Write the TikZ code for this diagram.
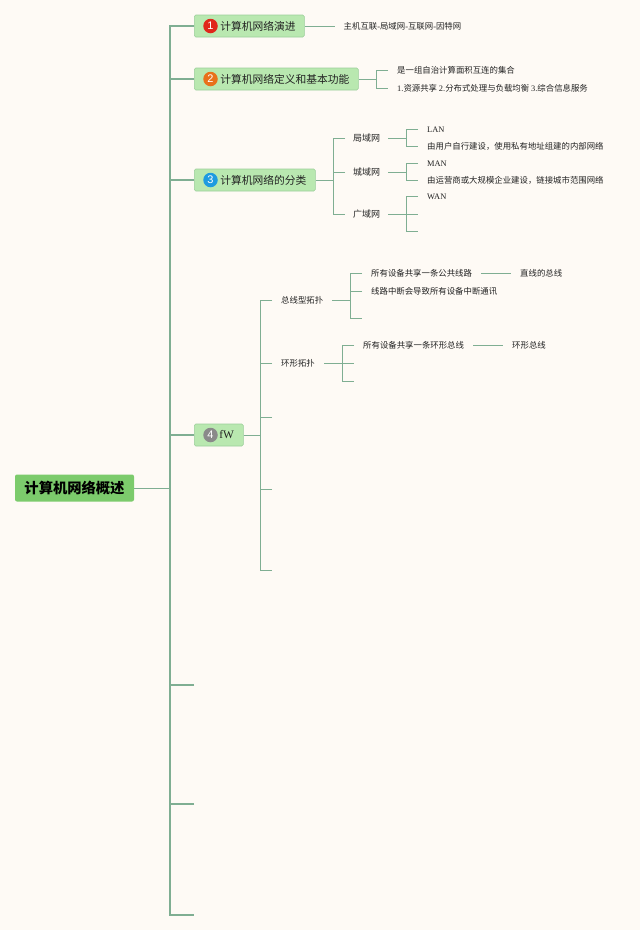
\documentclass[tikz,border=0pt]{standalone}
\usepackage{fontspec}
\setmainfont{Liberation Serif}
\newfontfamily\cjk{Noto Sans CJK SC}
\newfontfamily\badgefont{Liberation Sans}
\definecolor{bgc}{HTML}{FEFAF5}
\definecolor{linec}{HTML}{7FAE92}
\definecolor{topicfill}{HTML}{B9E8B0}
\definecolor{topicdraw}{HTML}{9BCF9A}
\definecolor{rootfill}{HTML}{7CCB6C}
\definecolor{txt}{HTML}{222222}
\definecolor{bred}{HTML}{E0261B}
\definecolor{borange}{HTML}{E8711A}
\definecolor{bblue}{HTML}{1E9BE0}
\definecolor{bgray}{HTML}{8A8A8A}
\tikzset{
  conn/.style={draw=linec,line width=1pt},
  trunk/.style={draw=linec,line width=1.2pt},
  rootbox/.style={rectangle,rounded corners=2pt,fill=rootfill,minimum width=119pt,minimum height=27pt,inner sep=0pt,font=\cjk\fontsize{14.3}{16}\selectfont\bfseries,text=black},
  topicbox/.style={rectangle,rounded corners=1.5pt,fill=topicfill,draw=topicdraw,line width=0.6pt,minimum height=22pt,anchor=west,inner sep=0pt,align=left,text=txt,font=\cjk\fontsize{10.75}{12}\selectfont},
  badge/.style={circle,minimum size=14.5pt,inner sep=0pt,text=white,font=\badgefont\fontsize{11}{12}\selectfont},
  leaf/.style={anchor=west,inner ysep=0pt,inner xsep=9pt,text height=6pt,text depth=0pt,text=txt,font=\cjk\fontsize{8.4}{10}\selectfont},
  midleaf/.style={leaf,font=\cjk\fontsize{9}{10}\selectfont},
  latinleaf/.style={leaf,font=\rmfamily\fontsize{8.4}{10}\selectfont},
}
\begin{document}
\begin{tikzpicture}[x=1pt,y=-1pt]
\useasboundingbox[fill=bgc] (0,0) rectangle (640,930);
% root and topics
\node[rootbox] (root) at (74.5,488) {计算机网络概述};
\node[topicbox] (t1) at (194,26) {\makebox[110pt][l]{\hspace{26pt}计算机网络演进}};
\node[topicbox] (t2) at (194,79) {\makebox[164pt][l]{\hspace{26pt}计算机网络定义和基本功能}};
\node[topicbox] (t3) at (194,180) {\makebox[121pt][l]{\hspace{26pt}计算机网络的分类}};
\node[topicbox,font=\rmfamily\fontsize{11.5}{12}\selectfont] (t4) at (194,435) {\makebox[49pt][l]{\hspace{25pt}fW}};
\node[badge,fill=bred] (b1) at (210.5,26) {1};
\node[badge,fill=borange] (b2) at (210.5,79) {2};
\node[badge,fill=bblue] (b3) at (210.5,180) {3};
\node[badge,fill=bgray] (b4) at (210.5,435) {4};
% trunk
\coordinate (tj) at (170,488);
\coordinate (t5) at (194,685);
\coordinate (t6) at (194,804);
\coordinate (t7) at (194,915);
\draw[conn] (root.east) -- (tj);
\draw[trunk] (t1.west) -- (170,26) -- (170,915) -- (t7);
\draw[trunk] (t2.west) -- (170,79);
\draw[trunk] (t3.west) -- (170,180);
\draw[trunk] (t4.west) -- (170,435);
\draw[trunk] (t5) -- (170,685);
\draw[trunk] (t6) -- (170,804);
% topic 1
\node[leaf] (a1) at (334.5,26) {主机互联{\rmfamily -}局域网{\rmfamily -}互联网{\rmfamily -}因特网};
\draw[conn] (t1.east) -- (a1.west);
% topic 2
\node[leaf] (a2) at (388,70) {是一组自治计算面积互连的集合};
\node[leaf] (a3) at (388,88) {{\rmfamily 1.}资源共享 {\rmfamily 2.}分布式处理与负载均衡 {\rmfamily 3.}综合信息服务};
\draw[conn] (t2.east) -- (376,79);
\draw[conn] (a2.west) -- (376,70) -- (376,88) -- (a3.west);
% topic 3
\node[midleaf,inner xsep=8pt] (c1) at (345,138) {局域网};
\node[midleaf,inner xsep=8pt] (c2) at (345,172) {城域网};
\node[midleaf,inner xsep=8pt] (c3) at (345,214) {广域网};
\draw[conn] (t3.east) -- (333,180);
\draw[conn] (c1.west) -- (333,138) -- (333,214) -- (c3.west);
\draw[conn] (c2.west) -- (333,172);
\node[latinleaf] (d1) at (418,129) {LAN};
\node[leaf] (d2) at (418,146) {由用户自行建设，使用私有地址组建的内部网络};
\node[latinleaf] (d3) at (418,163) {MAN};
\node[leaf] (d4) at (418,180) {由运营商或大规模企业建设，链接城市范围网络};
\node[latinleaf] (d5) at (418,196) {WAN};
\coordinate (d6) at (418,214);
\coordinate (d7) at (418,231);
\draw[conn] (c1.east) -- (406,138);
\draw[conn] (d1.west) -- (406,129) -- (406,146) -- (d2.west);
\draw[conn] (c2.east) -- (406,172);
\draw[conn] (d3.west) -- (406,163) -- (406,180) -- (d4.west);
\draw[conn] (c3.east) -- (d6);
\draw[conn] (d5.west) -- (406,196) -- (406,231) -- (d7);
% topic 4
\node[leaf] (e1) at (272,300) {总线型拓扑};
\node[leaf] (e2) at (272,363) {环形拓扑};
\coordinate (e3) at (272,417);
\coordinate (e4) at (272,489);
\coordinate (e5) at (272,570);
\draw[conn] (t4.east) -- (260,435);
\draw[conn] (e1.west) -- (260,300) -- (260,570) -- (e5);
\draw[conn] (e2.west) -- (260,363);
\draw[conn] (e3) -- (260,417);
\draw[conn] (e4) -- (260,489);
% bus
\node[leaf] (f1) at (362,273) {所有设备共享一条公共线路};
\node[leaf] (f2) at (362,291) {线路中断会导致所有设备中断通讯};
\coordinate (f3) at (362,318);
\node[leaf] (f4) at (511,273) {直线的总线};
\draw[conn] (e1.east) -- (350,300);
\draw[conn] (f1.west) -- (350,273) -- (350,318) -- (f3);
\draw[conn] (f2.west) -- (350,291);
\draw[conn] (f1.east) -- (f4.west);
% ring
\node[leaf] (g1) at (354,345) {所有设备共享一条环形总线};
\coordinate (g2) at (354,363);
\coordinate (g3) at (354,381);
\node[leaf] (g4) at (503,345) {环形总线};
\draw[conn] (e2.east) -- (g2);
\draw[conn] (g1.west) -- (342,345) -- (342,381) -- (g3);
\draw[conn] (g1.east) -- (g4.west);
\end{tikzpicture}
\end{document}
